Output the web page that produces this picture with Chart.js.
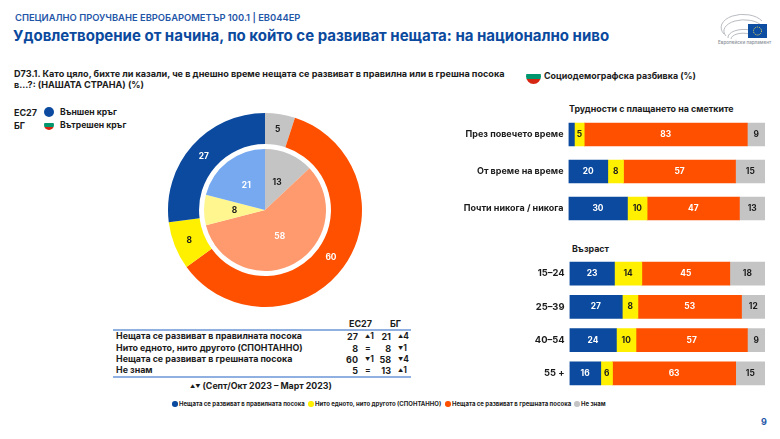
<!DOCTYPE html>
<html lang="bg">
<head>
<meta charset="utf-8">
<title>Евробарометър 100.1</title>
<script src="https://cdn.jsdelivr.net/npm/chart.js@4"></script>
<style>
    html, body { margin: 0; padding: 0; background: #fff; }
    #page { position: relative; width: 780px; height: 439px; overflow: hidden; font-family: Inter, "Noto Sans", sans-serif; color: #1b1b1b; }
    #page canvas { position: absolute; }
    .t { position: absolute; white-space: nowrap; transform: translateY(-50%); font-weight: 700; line-height: 1; }
    .t small { font-size: 5px; vertical-align: 1px; }
    .dot { position: absolute; border-radius: 50%; }
    .flag { position: absolute; border-radius: 50%; background: linear-gradient(#fff 0 33%, #00966e 33% 66%, #d62612 66%); }
    .rule { position: absolute; left: 113px; width: 298px; height: 2px; background: #8fb0e0; }
</style>
</head>
<body>
<div id="page">
    <canvas id="outerRing" width="200" height="200" style="left:165px;top:110px;width:200px;height:200px"></canvas>
    <canvas id="innerPie" width="130" height="130" style="left:200px;top:145px;width:130px;height:130px"></canvas>
    <canvas id="billsChart" width="325" height="111" style="left:440px;top:116px;width:325px;height:111px"></canvas>
    <canvas id="ageChart" width="325" height="133" style="left:440px;top:257px;width:325px;height:133px"></canvas>
    <svg style="position:absolute;left:716px;top:12px" width="54" height="36" viewBox="0 0 54 36">
        <g fill="none" stroke="#b9bcc2" stroke-width="1">
            <path d="M10 24a18 10 0 0 1 36 -10"/>
            <path d="M8 22a20 12 0 0 1 38 -13"/>
            <path d="M12 26a16 8 0 0 1 22 -8"/>
            <path d="M15 27a12 6 0 0 1 18 -5"/>
        </g>
        <rect x="32" y="12" width="19" height="14" fill="#0d4ea3"/>
        <circle cx="41.5" cy="19" r="4" fill="none" stroke="#ffe14d" stroke-width="1" stroke-dasharray="1 1"/>
    </svg>
</div>

<script>
// Общи етикети и цветове
const answers = ['Нещата се развиват в правилната посока', 'Нито едното, нито другото (СПОНТАННО)', 'Нещата се развиват в грешната посока', 'Не знам'];
const outerColors = ['#0b4a9e', '#fff000', '#ff5000', '#c4c4c4'];
const innerColors = ['#76a9f0', '#fff68f', '#ff9a6e', '#c4c4c4'];

// Кръгове: по часовника от 12 часа
const ringOrder = [3, 2, 1, 0];
const eu27Values = [27, 8, 60, 5];
const bgValues = [21, 8, 58, 13];

// Трудности с плащането на сметките
const billsCategories = ['През повечето време', 'От време на време', 'Почти никога / никога'];
const billsRight = [3, 20, 30];
const billsNeither = [5, 8, 10];
const billsWrong = [83, 57, 47];
const billsDontKnow = [9, 15, 13];

// Възраст
const ageCategories = ['15–24', '25–39', '40–54', '55 +'];
const ageRight = [23, 27, 24, 16];
const ageNeither = [14, 8, 10, 6];
const ageWrong = [45, 53, 57, 63];
const ageDontKnow = [18, 12, 9, 15];

// Таблица: промяна спрямо предишното проучване
const eu27Change = ['▲1', '=', '▼1', '='];
const bgChange = ['▲4', '▼1', '▼4', '▲1'];

const page = document.getElementById('page');

function addText(text, x, y, size, color, extra) {
    const el = document.createElement('div');
    el.className = 't';
    el.textContent = text;
    el.style.left = x + 'px';
    el.style.top = y + 'px';
    el.style.fontSize = size + 'px';
    if (color) el.style.color = color;
    if (extra) Object.assign(el.style, extra);
    page.appendChild(el);
    return el;
}

// Текст, подравнен вдясно към дадена позиция
function addTextRight(text, right, y, size) {
    const el = addText(text, 0, y, size);
    el.style.left = 'auto';
    el.style.right = (780 - right) + 'px';
    return el;
}

// Стрелките в таблицата са по-малки от цифрите
function addChange(text, x, y, size) {
    const el = addText('', x, y, size);
    el.innerHTML = text.replace(/[▲▼]+/, m => `<small>${m}</small>`);
    return el;
}

function addDot(cx, cy, d, color) {
    const el = document.createElement('div');
    el.className = 'dot';
    Object.assign(el.style, { left: (cx - d / 2) + 'px', top: (cy - d / 2) + 'px', width: d + 'px', height: d + 'px', background: color });
    page.appendChild(el);
}

function addFlag(cx, cy, d) {
    const el = document.createElement('div');
    el.className = 'flag';
    Object.assign(el.style, { left: (cx - d / 2) + 'px', top: (cy - d / 2) + 'px', width: d + 'px', height: d + 'px' });
    page.appendChild(el);
}

// Заглавия
addText('СПЕЦИАЛНО ПРОУЧВАНЕ ЕВРОБАРОМЕТЪР 100.1 | EB044EP', 15, 18, 9.4, '#1f56a8', { fontWeight: 600 });
addText('Удовлетворение от начина, по който се развиват нещата: на национално ниво', 13, 35, 15, '#0b4a9e');
addText('D73.1. Като цяло, бихте ли казали, че в днешно време нещата се развиват в правилна или в грешна посока', 14, 74, 9.1);
addText('в...?: (НАШАТА СТРАНА) (%)', 14, 85, 9.1);
addText('Европейски парламент', 718, 43, 4.6, '#8a8f98', { fontWeight: 500 });

// Легенда на кръговете
addText('ЕС27', 14, 112, 9);
addDot(49, 112, 10, outerColors[0]);
addText('Външен кръг', 60, 112, 8.6);
addText('БГ', 14, 125, 9);
addFlag(49, 125, 10);
addText('Вътрешен кръг', 60, 125, 8.6);

addFlag(533, 76, 15);
addText('Социодемографска разбивка (%)', 544, 76, 8.9);
addText('Трудности с плащането на сметките', 569, 109, 8.9);
addText('Възраст', 572, 249, 8.9);

// Таблица под кръговете
addText('ЕС27', 349, 323, 9);
addText('БГ', 390, 323, 9);
[329, 376].forEach(top => {
    const rule = document.createElement('div');
    rule.className = 'rule';
    rule.style.top = top + 'px';
    page.appendChild(rule);
});
const rowY = [335.5, 347.5, 358.5, 370];
answers.forEach((answer, i) => {
    addText(answer, 116, rowY[i], 8.9);
    addTextRight(String(eu27Values[i]), 358, rowY[i], 9);
    addChange(eu27Change[i], 365, rowY[i], 8.4);
    addTextRight(String(bgValues[i]), 391, rowY[i], 9);
    addChange(bgChange[i], 398, rowY[i], 8.4);
});
addChange('▲▼ (Септ/Окт 2023 – Март 2023)', 190, 386, 8.8);

// Долна легенда
const legendDotX = [175, 311, 448, 577];
answers.forEach((answer, i) => {
    addDot(legendDotX[i], 404, 5.5, outerColors[i]);
    addText(answer, legendDotX[i] + 4, 403.5, 6);
});
addText('9', 761, 421, 9, '#1f56a8');

// Стойностите върху кръговете и лентите
const valueLabels = {
    id: 'valueLabels',
    afterDatasetsDraw(chart) {
        const { ctx } = chart;
        ctx.save();
        ctx.textAlign = 'center';
        ctx.textBaseline = 'middle';
        ctx.font = '700 8.4px Inter';
        chart.data.datasets.forEach((dataset, d) => {
            chart.getDatasetMeta(d).data.forEach((element, i) => {
                const value = dataset.data[i];
                if (value < 4) return;
                const pos = element.getCenterPoint();
                ctx.fillStyle = dataset.labelColors[i];
                ctx.fillText(value, pos.x, pos.y);
            });
        });
        ctx.restore();
    }
};

// Кръгова диаграма (ЕС27 отвън, БГ отвътре)
function makeRing(canvasId, values, colors, radius, cutout) {
    new Chart(document.getElementById(canvasId), {
        type: 'doughnut',
        data: {
            labels: ringOrder.map(i => answers[i]),
            datasets: [{
                data: ringOrder.map(i => values[i]),
                backgroundColor: ringOrder.map(i => colors[i]),
                labelColors: ringOrder.map(i => (i === 0 || i === 2 ? '#fff' : '#1b1b1b')),
                borderWidth: 0
            }]
        },
        options: {
            responsive: false,
            animation: false,
            radius: radius,
            cutout: cutout,
            plugins: { legend: { display: false }, tooltip: { enabled: false } }
        },
        plugins: [valueLabels]
    });
}

makeRing('outerRing', eu27Values, outerColors, 97, 68);
makeRing('innerPie', bgValues, innerColors, 61, 0);

// Хоризонтални ленти
function makeBars(canvasId, categories, series, axisWidth, tickSize) {
    const labelColors = ['#fff', '#1b1b1b', '#fff', '#1b1b1b'];
    new Chart(document.getElementById(canvasId), {
        type: 'bar',
        data: {
            labels: categories,
            datasets: series.map((values, i) => ({
                label: answers[i],
                data: values,
                backgroundColor: outerColors[i],
                labelColors: categories.map(() => labelColors[i]),
                barThickness: 23,
                borderWidth: 0
            }))
        },
        options: {
            indexAxis: 'y',
            responsive: false,
            animation: false,
            layout: { padding: 0 },
            scales: {
                x: { stacked: true, min: 0, max: 100, display: false },
                y: {
                    stacked: true,
                    grid: { display: false, drawTicks: false },
                    border: { display: false },
                    ticks: { color: '#1b1b1b', padding: 5, font: { family: 'Inter', weight: '700', size: tickSize } },
                    afterFit(scale) {
                        scale.width = axisWidth;
                        // Редовете заемат цялата височина на платното
                        scale.paddingTop = 0;
                        scale.paddingBottom = 0;
                    }
                }
            },
            plugins: { legend: { display: false }, tooltip: { enabled: false } }
        },
        plugins: [valueLabels]
    });
}

makeBars('billsChart', billsCategories, [billsRight, billsNeither, billsWrong, billsDontKnow], 128.5, 9);
makeBars('ageChart', ageCategories, [ageRight, ageNeither, ageWrong, ageDontKnow], 129.5, 9.4);
</script>
</body>
</html>
